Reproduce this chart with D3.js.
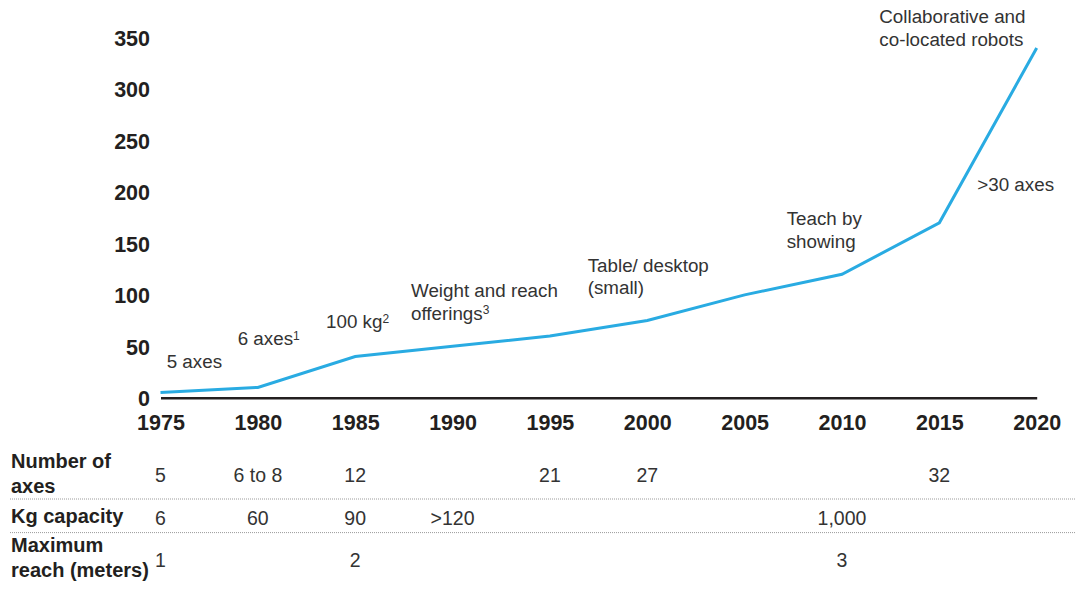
<!DOCTYPE html>
<html>
<head>
<meta charset="utf-8">
<script src="https://cdn.jsdelivr.net/npm/d3@7"></script>
<style>
  html, body { margin: 0; padding: 0; background: #fff; }
  svg { display: block; font-family: "Liberation Sans", Arial, Helvetica, sans-serif; }
</style>
</head>
<body>
<svg id="chart" width="1075" height="590"></svg>
<script>
// ---------- data ----------
const years = [1975, 1980, 1985, 1990, 1995, 2000, 2005, 2010, 2015, 2020];
const values = [5, 10, 40, 50, 60, 75, 100, 120, 170, 340];
const yTicks = [0, 50, 100, 150, 200, 250, 300, 350];
const xTicks = years;

const annotationTexts = [
  [["5 axes", ""]],
  [["6 axes", "1"]],
  [["100 kg", "2"]],
  [["Weight and reach", ""], ["offerings", "3"]],
  [["Table/ desktop", ""], ["(small)", ""]],
  [["Teach by", ""], ["showing", ""]],
  [[">30 axes", ""]],
  [["Collaborative and", ""], ["co-located robots", ""]]
];

const rowLabels = [["Number of", "axes"], ["Kg capacity"], ["Maximum", "reach (meters)"]];
const axesRow = [
  { year: 1975, text: "5" }, { year: 1980, text: "6 to 8" }, { year: 1985, text: "12" },
  { year: 1995, text: "21" }, { year: 2000, text: "27" }, { year: 2015, text: "32" }
];
const kgRow = [
  { year: 1975, text: "6" }, { year: 1980, text: "60" }, { year: 1985, text: "90" },
  { year: 1990, text: ">120" }, { year: 2010, text: "1,000" }
];
const reachRow = [
  { year: 1975, text: "1" }, { year: 1985, text: "2" }, { year: 2010, text: "3" }
];
const tableRows = [axesRow, kgRow, reachRow];

// ---------- layout ----------
const svg = d3.select("#chart");
const x = d3.scaleLinear().domain([1975, 2020]).range([160.5, 1036.7]);
const y = d3.scaleLinear().domain([0, 350]).range([397.7, 37.7]);

const textColor = "#231f20";
const annoColor = "#333333";
const lineColor = "#29abe2";

// y axis labels
const yAxis = d3.axisLeft(y).tickValues(yTicks).tickSize(0).tickPadding(10.5).tickFormat(d3.format("d"));
const gy = svg.append("g").attr("transform", `translate(${x(1975)},0)`).call(yAxis);
gy.select(".domain").remove();
gy.selectAll("text")
  .attr("dy", "0.36em")
  .style("font-size", "21.5px").style("font-weight", "bold").attr("fill", textColor);

// x axis
const xAxis = d3.axisBottom(x).tickValues(xTicks).tickSize(0).tickSizeOuter(0).tickPadding(17).tickFormat(d3.format("d"));
const gx = svg.append("g").attr("transform", `translate(0,${y(0)})`).call(xAxis);
gx.select(".domain").attr("stroke", textColor).attr("stroke-width", 2.6);
gx.selectAll("text")
  .style("font-size", "21.5px").style("font-weight", "bold").attr("fill", textColor);

// line
const line = d3.line().x((d, i) => x(years[i])).y(d => y(d));
svg.append("path")
  .datum(values)
  .attr("fill", "none")
  .attr("stroke", lineColor)
  .attr("stroke-width", 3)
  .attr("stroke-linejoin", "miter")
  .attr("d", line);

// annotations (left x, first baseline y)
const annoPos = [
  [166.7, 367.7], [237.7, 345], [326, 328.3], [411, 297.3],
  [587.7, 271.7], [786.7, 225], [977.3, 190.7], [879.3, 23.3]
];
const annoLineH = 22.5;
annotationTexts.forEach((lines, i) => {
  const t = svg.append("text")
    .attr("x", annoPos[i][0]).attr("y", annoPos[i][1])
    .attr("fill", annoColor).style("font-size", "18.8px");
  lines.forEach((ln, j) => {
    const ts = t.append("tspan").attr("x", annoPos[i][0]).attr("y", annoPos[i][1] + j * annoLineH).text(ln[0]);
    if (ln[1]) {
      t.append("tspan").attr("dy", "-0.45em").style("font-size", "12px").text(ln[1]);
    }
  });
});

// table row labels
const labelPos = [468.3, 523.3, 551.7];
const labelLineH = 25;
rowLabels.forEach((lines, i) => {
  const t = svg.append("text").attr("fill", textColor)
    .style("font-size", "20px").style("font-weight", "bold");
  lines.forEach((ln, j) => {
    t.append("tspan").attr("x", 11).attr("y", labelPos[i] + j * labelLineH).text(ln);
  });
});

// table values
const rowBaseline = [482, 524.5, 566.5];
tableRows.forEach((row, i) => {
  svg.append("g").selectAll("text")
    .data(row).join("text")
    .attr("x", d => x(d.year))
    .attr("y", rowBaseline[i])
    .attr("text-anchor", "middle")
    .attr("fill", annoColor)
    .style("font-size", "19.5px")
    .text(d => d.text);
});

// dotted separators
[499, 532.6].forEach(yy => {
  svg.append("line")
    .attr("x1", 10).attr("x2", 1075)
    .attr("y1", yy).attr("y2", yy)
    .attr("stroke", "#9a9a9a").attr("stroke-width", 1)
    .attr("stroke-dasharray", "1,1");
});
</script>
</body>
</html>
